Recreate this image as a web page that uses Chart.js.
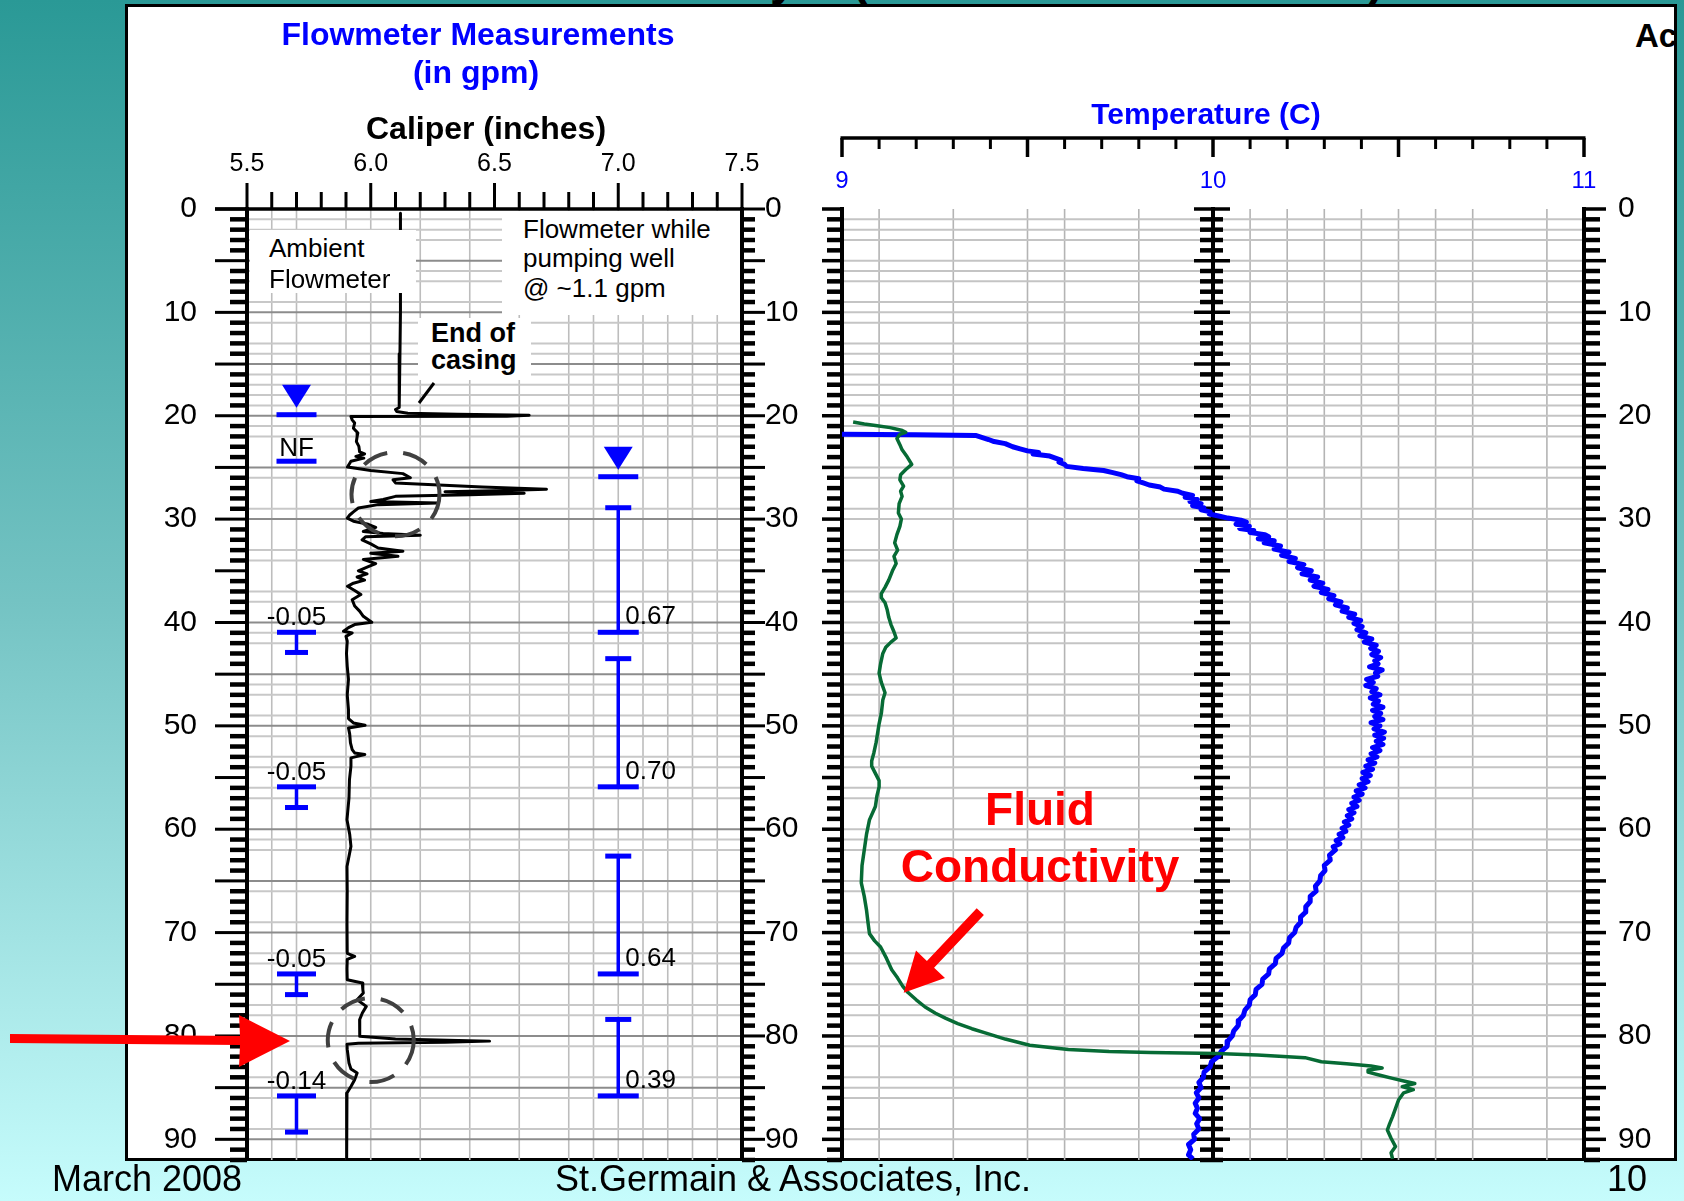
<!DOCTYPE html>
<html>
<head>
<meta charset="utf-8">
<title>Flowmeter, caliper and temperature log</title>
<script src="https://cdn.jsdelivr.net/npm/chart.js@4.4.1/dist/chart.umd.min.js"></script>
<style>
html,body{margin:0;padding:0}
body{width:1684px;height:1201px;position:relative;overflow:hidden;
 background:linear-gradient(to bottom,#2a9996 0%,#74c3c3 50%,#c6fcfc 100%);
 font-family:"Liberation Sans",Arial,sans-serif;color:#000}
#box{position:absolute;left:125px;top:4px;width:1546px;height:1151px;background:#fff;border:3px solid #000;overflow:hidden}
canvas{position:absolute;top:0}
#cL{left:0}
#cR{left:800px}
.t{position:absolute;white-space:nowrap;line-height:1}
.w{position:absolute;background:#fff}
.b{font-weight:bold}
.c{transform:translateX(-50%)}
svg{position:absolute;left:0;top:0}
</style>
</head>
<body>
<div class="t b" style="left:770px;top:-45px;font-size:48px">y</div>
<div class="t b" style="left:852px;top:-45px;font-size:48px">(</div>
<div class="t b" style="left:1368px;top:-45px;font-size:48px">)</div>
<div id="box"><div class="t b" style="left:1507px;top:12px;font-size:33px">Ac</div></div>

<canvas id="cL" width="830" height="1201"></canvas>
<canvas id="cR" width="884" height="1201"></canvas>

<div class="t b c" style="left:478px;top:18px;font-size:32px;color:#0000ff">Flowmeter Measurements</div>
<div class="t b c" style="left:476px;top:56px;font-size:32px;color:#0000ff">(in gpm)</div>
<div class="t b c" style="left:486px;top:112px;font-size:32px">Caliper (inches)</div>
<div class="t b c" style="left:1206px;top:99px;font-size:30px;color:#0000ff">Temperature (C)</div>

<div class="w" style="left:250px;top:230px;width:166px;height:63px"></div>
<div class="w" style="left:502px;top:211px;width:238px;height:104px"></div>
<div class="w" style="left:418px;top:318px;width:113px;height:62px"></div>

<div class="t" style="left:269px;top:235px;font-size:26px">Ambient</div>
<div class="t" style="left:269px;top:266px;font-size:26px">Flowmeter</div>
<div class="t" style="left:523px;top:216px;font-size:26px">Flowmeter while</div>
<div class="t" style="left:523px;top:245px;font-size:26px">pumping well</div>
<div class="t" style="left:523px;top:275px;font-size:26px">@ ~1.1 gpm</div>
<div class="t b" style="left:431px;top:320px;font-size:27px">End of</div>
<div class="t b" style="left:431px;top:347px;font-size:27px">casing</div>

<div class="t b c" style="left:1040px;top:786px;font-size:46px;color:#ff0000">Fluid</div>
<div class="t b c" style="left:1040px;top:843px;font-size:46px;color:#ff0000">Conductivity</div>

<svg width="1684" height="1201" viewBox="0 0 1684 1201">
 <polygon fill="#ff0000" points="10,1034 240,1036 239,1015 290,1041 239,1067 240,1045 10,1043"/>
 <polygon fill="#ff0000" points="983.9,915.1 934.1,967.7 945,978 903.7,992.7 916,950.6 926.9,960.9 976.7,908.3"/>
 <line x1="434" y1="383" x2="419" y2="403" stroke="#000" stroke-width="3"/>
</svg>

<div class="t" style="left:52px;top:1161px;font-size:36px">March 2008</div>
<div class="t c" style="left:793px;top:1161px;font-size:36px">St.Germain &amp; Associates, Inc.</div>
<div class="t" style="left:1607px;top:1161px;font-size:36px">10</div>

<script>
// ---------------- data ----------------
// Caliper log (depth in ft, diameter in inches)
const caliperDepth = [0.4,2,6,10,14,17,19.2,19.4,19.6,19.75,19.85,19.95,20.05,20.07,20.4,20.7,21.2,21.67,22.0,22.5,22.96,23.5,23.7,23.93,24.1,24.41,24.96,25.3,25.6,26.0,26.2,26.5,26.9,27.1,27.25,27.35,27.5,27.65,27.8,28.1,28.3,28.45,28.6,28.93,29.3,29.6,29.9,30.2,30.5,30.8,31.2,31.4,31.55,31.7,32.0,32.4,32.8,33.1,33.3,33.6,33.9,34.3,34.6,35.0,35.3,35.6,35.9,36.2,36.5,36.9,37.3,37.8,38.4,38.9,39.4,39.98,40.2,40.5,40.85,41.02,41.34,41.8,43,44.24,45.5,47,48.43,49.3,49.72,49.95,50.2,50.8,51.65,52.3,52.62,52.78,53.1,53.9,55.2,57,59.08,60.5,61.66,63.6,66,69,72.0,72.3,72.6,73.5,74.56,74.88,75.5,75.85,76.49,77.14,77.78,78.43,79.2,80.04,80.3,80.5,80.6,80.7,80.8,81.3,82.62,83.2,83.59,84.23,84.88,85.52,87,89,91.97];
const caliperIn = [6.12,6.12,6.12,6.12,6.118,6.115,6.115,6.10,6.105,6.15,6.35,6.64,6.55,5.92,5.925,5.935,5.93,5.948,5.945,5.942,5.952,5.955,5.975,5.94,5.972,5.92,5.906,6.0,6.13,6.16,6.09,6.10,6.45,6.71,6.50,6.30,6.62,6.40,6.10,6.05,6.00,6.27,6.03,5.95,5.93,5.915,5.905,5.93,5.99,6.02,5.97,6.05,6.20,5.98,5.965,6.00,6.03,6.13,6.00,6.11,5.97,6.02,5.99,5.95,5.985,5.945,5.975,5.93,5.906,5.935,5.96,5.925,5.935,5.955,5.97,6.004,5.935,5.91,5.89,5.925,5.90,5.905,5.902,5.905,5.91,5.905,5.91,5.91,5.93,5.977,5.91,5.915,5.918,5.925,5.935,5.976,5.92,5.92,5.914,5.912,5.904,5.915,5.92,5.904,5.905,5.904,5.905,5.935,5.905,5.904,5.905,5.966,5.968,5.97,5.945,5.982,5.966,5.955,5.956,5.955,6.10,6.48,6.30,5.95,5.904,5.905,5.912,5.92,5.945,5.935,5.92,5.904,5.904,5.902,5.902];

// Flowmeter stations (depth intervals in ft) and measured flows (gpm)
const ambientTop = [40.95, 55.9, 74.0, 85.8];
const ambientBottom = [42.9, 57.9, 76.0, 89.3];
const ambientFlow = [-0.05, -0.05, -0.05, -0.14];
const pumpTop = [28.9, 43.5, 62.6, 78.4];
const pumpBottom = [40.95, 55.9, 74.0, 85.8];
const pumpFlow = [0.67, 0.70, 0.64, 0.39];
const waterLevels = [19.9, 25.9];      // ambient, pumping (ft)
const noFlowDepth = 24.4;              // "NF" reading

// Temperature log [depth ft, deg C]
const tempLog = [[21.8,9.000],[21.85,9.200],[21.9,9.360],[22.3,9.395],[22.5,9.410],[22.7,9.440],[23.0,9.460],[23.2,9.480],[23.4,9.500],[23.55,9.530],[23.7,9.515],[23.9,9.560],[24.1,9.575],[24.3,9.590],[24.5,9.585],[24.7,9.600],[24.9,9.605],[25.1,9.650],[25.3,9.705],[25.5,9.730],[25.7,9.752],[25.9,9.768],[26.1,9.800],[26.3,9.795],[26.5,9.812],[26.7,9.828],[26.9,9.858],[27.1,9.868],[27.3,9.905],[27.5,9.918],[27.7,9.945],[27.9,9.925],[28.1,9.958],[28.3,9.938],[28.5,9.968],[28.7,9.945],[28.9,9.975],[29.1,9.968],[29.3,9.992],[29.5,9.990],[29.7,10.015],[29.9,10.040],[30.1,10.075],[30.3,10.090],[30.5,10.062],[30.7,10.098],[30.9,10.072],[31.1,10.110],[31.3,10.100],[31.5,10.140],[31.7,10.150],[31.9,10.122],[32.1,10.165],[32.3,10.138],[32.6,10.182],[32.9,10.165],[33.2,10.205],[33.5,10.185],[33.8,10.222],[34.1,10.205],[34.4,10.245],[34.7,10.228],[35.0,10.265],[35.3,10.240],[35.6,10.282],[35.9,10.262],[36.2,10.296],[36.5,10.272],[36.8,10.310],[37.1,10.292],[37.4,10.326],[37.7,10.312],[38.0,10.345],[38.3,10.330],[38.6,10.362],[38.9,10.348],[39.2,10.382],[39.5,10.366],[39.8,10.398],[40.1,10.380],[40.4,10.402],[40.7,10.388],[41.0,10.412],[41.3,10.396],[41.6,10.428],[41.9,10.408],[42.2,10.440],[42.5,10.425],[42.8,10.446],[43.1,10.428],[43.4,10.452],[43.7,10.436],[44.0,10.445],[44.3,10.422],[44.6,10.456],[44.9,10.438],[45.2,10.444],[45.5,10.414],[45.8,10.432],[46.1,10.412],[46.4,10.440],[46.7,10.428],[47.0,10.450],[47.3,10.424],[47.6,10.446],[47.9,10.432],[48.2,10.458],[48.5,10.430],[48.8,10.452],[49.1,10.436],[49.4,10.458],[49.7,10.426],[50.0,10.450],[50.3,10.434],[50.6,10.462],[50.9,10.436],[51.2,10.460],[51.5,10.440],[51.8,10.458],[52.1,10.430],[52.4,10.450],[52.7,10.426],[53.0,10.442],[53.3,10.418],[53.6,10.436],[53.9,10.412],[54.2,10.430],[54.5,10.404],[54.8,10.424],[55.1,10.402],[55.4,10.418],[55.7,10.394],[56.0,10.410],[56.3,10.386],[56.6,10.402],[56.9,10.380],[57.2,10.394],[57.5,10.374],[57.8,10.388],[58.1,10.366],[58.4,10.380],[58.7,10.362],[59.0,10.374],[59.3,10.354],[59.6,10.366],[59.9,10.348],[60.2,10.358],[60.5,10.340],[60.8,10.350],[61.1,10.332],[61.4,10.342],[61.7,10.324],[62.0,10.330],[62.5,10.314],[63.0,10.316],[63.5,10.300],[64.0,10.302],[64.5,10.290],[65.0,10.288],[65.5,10.276],[66.0,10.278],[66.5,10.262],[67.0,10.262],[67.5,10.250],[68.0,10.250],[68.5,10.236],[69.0,10.236],[69.5,10.224],[70.0,10.220],[70.5,10.206],[71.0,10.204],[71.5,10.190],[72.0,10.186],[72.5,10.170],[73.0,10.168],[73.5,10.152],[74.0,10.150],[74.5,10.134],[75.0,10.132],[75.5,10.116],[76.0,10.114],[76.5,10.100],[77.0,10.098],[77.5,10.086],[78.0,10.082],[78.5,10.070],[79.0,10.068],[79.5,10.056],[80.0,10.052],[80.5,10.040],[81.0,10.038],[81.5,10.022],[82.0,10.014],[82.5,9.996],[83.0,9.992],[83.5,9.976],[84.0,9.974],[84.5,9.962],[85.0,9.968],[85.5,9.955],[86.0,9.962],[86.5,9.952],[87.0,9.958],[87.5,9.952],[88.0,9.964],[88.5,9.956],[89.0,9.962],[89.5,9.948],[90.0,9.950],[90.5,9.934],[91.0,9.940],[91.5,9.934],[91.9,9.946]];

// Fluid conductivity (no scale on the log: position as % of the track width)
const condDepth = [20.6,20.8,20.95,21.15,21.4,21.6,21.8,22.2,22.8,23.3,24.0,24.7,25.2,25.7,26.2,26.8,27.3,27.8,28.5,29.4,30.0,30.7,31.5,32.3,33.0,33.6,34.3,35.0,35.9,36.6,37.2,37.6,38.1,38.8,39.5,40.2,40.9,41.5,41.9,42.4,43.0,44.0,44.9,45.8,46.8,47.5,48.8,49.8,50.7,51.6,52.6,53.4,53.9,54.6,55.3,55.9,56.8,57.8,59.1,60.5,62.0,63.5,65.2,66.5,67.8,69.0,70.1,70.8,71.4,72.5,73.6,74.4,75.2,75.8,76.5,77.2,77.8,78.3,78.8,79.3,79.7,80.3,80.9,81.3,81.5,81.6,81.7,81.85,82.1,82.5,82.7,82.9,83.1,83.3,83.5,83.8,84.1,84.4,84.6,84.9,85.2,85.5,86.2,87.0,87.8,88.5,89.1,89.9,90.7,91.3,91.9];
const condRel = [1.5,3.0,4.5,6.5,8.0,8.6,7.8,7.4,7.8,8.1,8.8,9.4,8.6,7.9,7.8,8.3,7.9,8.1,7.7,7.6,8.0,7.8,7.4,7.1,7.5,7.0,7.3,6.8,6.3,5.8,5.3,5.3,5.8,6.1,6.3,6.6,7.0,7.3,6.6,5.9,5.5,5.2,5.0,5.3,5.8,5.5,5.3,5.0,4.8,4.6,4.3,4.0,4.0,4.5,5.0,5.0,4.7,4.5,3.7,3.3,3.0,2.7,2.6,3.0,3.3,3.5,3.7,4.4,5.2,6.0,6.7,7.5,8.2,8.9,10.0,11.2,12.6,14.0,15.6,17.5,19.3,22.0,25.3,30.5,36.0,41.6,50.5,56.0,62.4,64.6,68.0,71.3,72.8,71.0,70.9,72.5,74.2,76.0,77.2,75.5,77.0,75.7,75.0,74.6,74.2,73.8,73.5,74.0,74.6,74.0,74.2];

// Grid / tick values seen on the log
const depthGrid = [1,2,3,5,6,7,9,10,11,13,14,15,16,17,18,19,20,21,22,25,26,29,30,33,34,37,38,40,41,42,45,46,47,49,50,51,53,54,56,57,60,61,62,65,66,69,70,72,73,75,77,78,80,81,84,85,86,89,90];
const caliperGrid = [5.6,5.7,5.9,6.0,6.2,6.4,6.6,6.8,6.9,7.0,7.1,7.2,7.3,7.4];
const tempGrid = [9.1,9.3,9.5,9.6,9.8,10.1,10.2,10.3,10.4,10.5,10.6,10.7,10.9];
const flowLabels = {noFlow: 'NF'};

// ---------------- drawing ----------------
const FF = '"Liberation Sans", Arial, sans-serif';
Chart.defaults.font.family = FF;
const AMB_COL = 5.7, PUMP_COL = 7.0;   // caliper-scale columns where flowmeter readings are posted
const DEPTH_MAX = 92;

function seg(ctx, x1, y1, x2, y2) { ctx.beginPath(); ctx.moveTo(x1, y1); ctx.lineTo(x2, y2); ctx.stroke(); }
function noPad(s) { s.paddingTop = 0; s.paddingBottom = 0; s.paddingLeft = 0; s.paddingRight = 0; }

const leftDecor = {
  id: 'leftDecor',
  beforeDatasetsDraw(chart) {
    const {ctx, chartArea: a} = chart;
    const x = chart.scales.x, y = chart.scales.y;
    ctx.save();
    ctx.beginPath(); ctx.rect(a.left, a.top, a.right - a.left, a.bottom - a.top); ctx.clip();
    ctx.strokeStyle = '#bdbdbd'; ctx.lineWidth = 1.6;
    caliperGrid.forEach(v => { const px = x.getPixelForValue(v); seg(ctx, px, a.top, px, a.bottom); });
    depthGrid.forEach(d => {
      const py = y.getPixelForValue(d);
      ctx.strokeStyle = d % 5 === 0 ? '#8c8c8c' : '#c8c8c8';
      ctx.lineWidth = 2;
      seg(ctx, a.left, py, a.right, py);
    });
    ctx.restore();
  },
  afterDatasetsDraw(chart) {
    const {ctx, chartArea: a} = chart;
    const x = chart.scales.x, y = chart.scales.y;
    ctx.save();
    // dashed call-out ellipses
    ctx.strokeStyle = '#404040'; ctx.lineWidth = 4; ctx.setLineDash([26, 16]);
    [[6.10, 27.6, 44, 42], [6.0, 80.4, 43, 42]].forEach(e => {
      ctx.beginPath(); ctx.ellipse(x.getPixelForValue(e[0]), y.getPixelForValue(e[1]), e[2], e[3], 0, 0, Math.PI * 2); ctx.stroke();
    });
    ctx.setLineDash([]);

    // flowmeter readings
    const ax = x.getPixelForValue(AMB_COL), px = x.getPixelForValue(PUMP_COL);
    ctx.fillStyle = '#0000ff';
    ctx.font = '26px ' + FF;
    const txt = [];
    ambientTop.forEach((t, i) => {
      const yt = y.getPixelForValue(t), yb = y.getPixelForValue(ambientBottom[i]);
      ctx.fillStyle = '#0000ff';
      ctx.fillRect(ax - 1.75, yt, 3.5, yb - yt);
      ctx.fillRect(ax - 19.5, yt - 2.5, 39, 5);
      ctx.fillRect(ax - 11.5, yb - 2.5, 23, 5);
      txt.push([ambientFlow[i].toFixed(2), ax, yt - 7, 'center']);
    });
    pumpTop.forEach((t, i) => {
      const yt = y.getPixelForValue(t), yb = y.getPixelForValue(pumpBottom[i]);
      ctx.fillStyle = '#0000ff';
      ctx.fillRect(px - 1.75, yt, 3.5, yb - yt);
      ctx.fillRect(px - 13, yt - 2.5, 26, 5);
      ctx.fillRect(px - 20.5, yb - 2.5, 41, 5);
      txt.push([pumpFlow[i].toFixed(2), px + 7, yb - 8, 'left']);
    });
    // water levels (triangle + bar)
    [ax, px].forEach((cx, i) => {
      const yb = y.getPixelForValue(waterLevels[i]);
      ctx.fillRect(cx - 20, yb - 2.5, 40, 5);
      ctx.beginPath(); ctx.moveTo(cx - 14.5, yb - 30); ctx.lineTo(cx + 14.5, yb - 30); ctx.lineTo(cx, yb - 7); ctx.closePath(); ctx.fill();
    });
    const ynf = y.getPixelForValue(noFlowDepth);
    ctx.fillRect(ax - 20, ynf - 2.5, 40, 5);
    txt.push([flowLabels.noFlow, ax, ynf - 5, 'center']);

    ctx.fillStyle = '#000'; ctx.textBaseline = 'alphabetic';
    txt.forEach(t => { ctx.textAlign = t[3]; ctx.fillText(t[0], t[1], t[2]); });

    // axes
    ctx.strokeStyle = '#000'; ctx.lineCap = 'butt';
    const L = a.left, R = a.right;
    ctx.lineWidth = 4; seg(ctx, L, a.top - 2, L, a.bottom); seg(ctx, R, a.top - 2, R, a.bottom);
    ctx.lineWidth = 3.5; seg(ctx, L - 32, a.top, R, a.top);
    for (let i = 0; i <= 20; i++) {
      const v = 5.5 + i * 0.1, xx = x.getPixelForValue(v), major = i % 5 === 0;
      ctx.lineWidth = 3; seg(ctx, xx, a.top, xx, a.top - (major ? 26 : 17));
    }
    for (let d = 0; d <= DEPTH_MAX; d++) {
      const yy = y.getPixelForValue(d), major = d % 5 === 0;
      ctx.lineWidth = major ? 3 : 4.5;
      seg(ctx, L - (major ? 32 : 17), yy, L, yy);
      seg(ctx, R, yy, R + (major ? 23 : 13), yy);
    }
    ctx.restore();
  }
};

const rightDecor = {
  id: 'rightDecor',
  beforeDatasetsDraw(chart) {
    const {ctx, chartArea: a} = chart;
    const x = chart.scales.xT, y = chart.scales.yL;
    ctx.save();
    ctx.beginPath(); ctx.rect(a.left, a.top, a.right - a.left, a.bottom - a.top); ctx.clip();
    ctx.strokeStyle = '#b4b4b4'; ctx.lineWidth = 1.6;
    tempGrid.forEach(v => { const px = x.getPixelForValue(v); seg(ctx, px, a.top, px, a.bottom); });
    ctx.strokeStyle = '#c4c4c4'; ctx.lineWidth = 2;
    depthGrid.forEach(d => { const py = y.getPixelForValue(d); seg(ctx, a.left, py, a.right, py); });
    ctx.restore();

    ctx.save();
    ctx.strokeStyle = '#000'; ctx.lineCap = 'butt';
    // temperature scale bar at top
    const ty = 138;
    ctx.lineWidth = 3.5; seg(ctx, x.getPixelForValue(9) - 1.5, ty, x.getPixelForValue(11) + 1.5, ty);
    for (let i = 0; i <= 20; i++) {
      const xx = x.getPixelForValue(9 + i * 0.1), major = i % 5 === 0;
      ctx.lineWidth = major ? 3.5 : 3; seg(ctx, xx, ty, xx, ty + (major ? 19 : 11));
    }
    // depth tracks at 9, 10 and 11 C
    const xa = x.getPixelForValue(9), xb = x.getPixelForValue(10), xc = x.getPixelForValue(11);
    ctx.lineWidth = 4;
    [xa, xb, xc].forEach(xx => seg(ctx, xx, a.top - 2, xx, a.bottom));
    for (let d = 0; d <= DEPTH_MAX; d++) {
      const yy = y.getPixelForValue(d), major = d % 5 === 0;
      ctx.lineWidth = major ? 3.5 : 4.5;
      seg(ctx, xa - (major ? 20 : 15), yy, xa, yy);
      seg(ctx, xb - (major ? 19 : 13), yy, xb + (major ? 17 : 10), yy);
      seg(ctx, xc, yy, xc + (major ? 22 : 16), yy);
    }
    ctx.restore();
  }
};

const depthAxis = (pos, pad, width, show) => ({
  type: 'linear', position: pos, reverse: true, min: 0, max: DEPTH_MAX,
  grid: {display: false, drawTicks: false}, border: {display: false},
  ticks: {display: show, stepSize: 10, includeBounds: false, autoSkip: false, padding: pad, color: '#000', font: {size: 30, family: FF}},
  afterFit: s => { s.width = width; noPad(s); }
});

new Chart(document.getElementById('cL'), {
  type: 'scatter',
  data: {datasets: [{
    label: 'Caliper (inches)',
    data: caliperDepth.map((d, i) => ({x: caliperIn[i], y: d})),
    showLine: true, borderColor: '#000', borderWidth: 3, pointRadius: 0, tension: 0,
    borderJoinStyle: 'round', xAxisID: 'x', yAxisID: 'y'
  }]},
  options: {
    responsive: false, animation: false, events: [],
    layout: {padding: {top: 0, left: 0, right: 0, bottom: 41}},
    plugins: {legend: {display: false}, tooltip: {enabled: false}},
    scales: {
      x: {type: 'linear', position: 'top', min: 5.5, max: 7.5,
        grid: {display: false, drawTicks: false}, border: {display: false},
        ticks: {stepSize: 0.5, autoSkip: false, maxRotation: 0, includeBounds: false, padding: 30, color: '#000',
          font: {size: 25, family: FF}, callback: v => Number(v).toFixed(1)},
        afterFit: s => { s.height = 209; noPad(s); }},
      y: depthAxis('left', 50, 247, true),
      y2: depthAxis('right', 23, 88, true)
    }
  },
  plugins: [leftDecor]
});

new Chart(document.getElementById('cR'), {
  type: 'scatter',
  data: {datasets: [
    {label: 'Fluid Conductivity', data: condDepth.map((d, i) => ({x: condRel[i], y: d})),
      showLine: true, borderColor: '#076b35', borderWidth: 3.5, pointRadius: 0, tension: 0,
      borderJoinStyle: 'round', xAxisID: 'xC', yAxisID: 'yL', order: 0},
    {label: 'Temperature (C)', data: tempLog.map(p => ({x: p[1], y: p[0]})),
      showLine: true, borderColor: '#0000ff', borderWidth: 5, pointRadius: 0, tension: 0,
      borderJoinStyle: 'round', xAxisID: 'xT', yAxisID: 'yL', order: 1}
  ]},
  options: {
    responsive: false, animation: false, events: [],
    layout: {padding: {top: 0, left: 0, right: 0, bottom: 41}},
    plugins: {legend: {display: false}, tooltip: {enabled: false}},
    scales: {
      xT: {type: 'linear', position: 'top', min: 9, max: 11,
        grid: {display: false, drawTicks: false}, border: {display: false},
        ticks: {stepSize: 1, autoSkip: false, maxRotation: 0, includeBounds: false, padding: 13, color: '#0000ff',
          font: {size: 24, family: FF}},
        afterFit: s => { s.height = 209; noPad(s); }},
      xC: {type: 'linear', display: false, min: 0, max: 100},
      yL: depthAxis('left', 10, 42, false),
      yR: depthAxis('right', 34, 100, true)
    }
  },
  plugins: [rightDecor]
});
</script>
</body>
</html>
